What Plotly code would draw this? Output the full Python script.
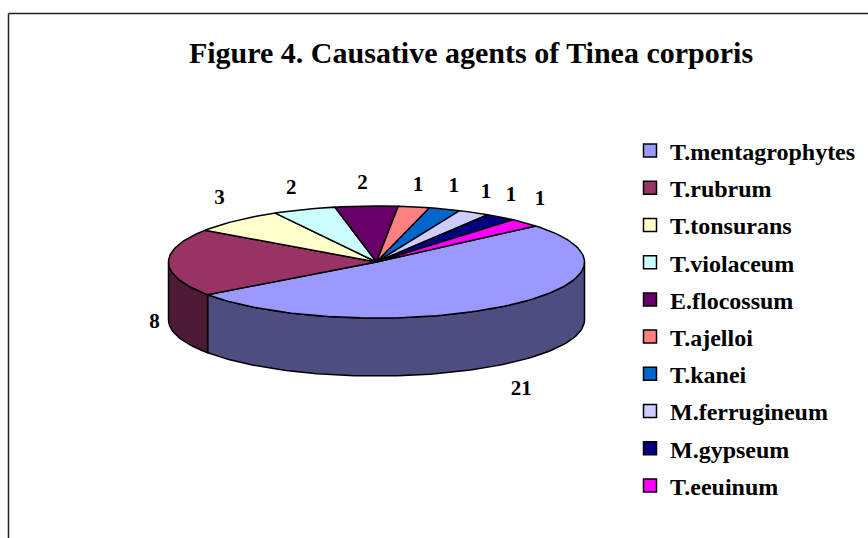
import math
import plotly.graph_objects as go

# ---- data ----
categories = ["T.mentagrophytes", "T.rubrum", "T.tonsurans", "T.violaceum", "E.flocossum",
              "T.ajelloi", "T.kanei", "M.ferrugineum", "M.gypseum", "T.eeuinum"]
values = [21, 8, 3, 2, 2, 1, 1, 1, 1, 1]
top_colors = ["#9999FF", "#993366", "#FFFFCC", "#CCFFFF", "#660066",
              "#FF8080", "#0066CC", "#CCCCFF", "#000080", "#FF00FF"]
side_colors = ["#4D4D80", "#4D1A33", "#808066", "#668080", "#330033",
               "#804040", "#003366", "#666680", "#000040", "#800080"]
title_text = "Figure 4. Causative agents of Tinea corporis"

# ---- pie geometry, in page pixels ----
W, H = 868, 538
CX, CY, RX, RY, DEPTH = 376.5, 262, 208, 56, 58
START = 40.1
LABEL_OFFSETS = [(17, 84), (-14, 60), (-17, -22), (-13, -21), (-4, -22),
                 (4, -21), (9, -22), (12, -20), (10, -21), (15, -23)]


def rim(deg, drop=0.0):
    t = math.radians(deg)
    return CX + RX * math.cos(t), CY - RY * math.sin(t) + drop


def arc(a0, a1, drop=0.0):
    n = max(2, int(abs(a1 - a0) / 1.5) + 1)
    return [rim(a0 + (a1 - a0) * i / (n - 1), drop) for i in range(n)]


fig = go.Figure()
total = sum(values)
edges = [START]
for v in values:
    edges.append(edges[-1] - v / total * 360)

# walls of the front half first
for i in range(len(values)):
    a0, a1 = edges[i], edges[i + 1]
    for lo, hi in [(-180, 0), (-540, -360)]:
        s, e = min(a0, hi), max(a1, lo)
        if s > e:
            pts = arc(s, e) + arc(e, s, DEPTH)
            pts.append(pts[0])
            fig.add_trace(go.Scatter(x=[p[0] for p in pts], y=[p[1] for p in pts], mode="lines",
                                     fill="toself", fillcolor=side_colors[i],
                                     line=dict(color="#000000", width=1.5),
                                     showlegend=False, hoverinfo="skip"))

# top faces
for i in range(len(values)):
    pts = [(CX, CY)] + arc(edges[i], edges[i + 1]) + [(CX, CY)]
    fig.add_trace(go.Scatter(x=[p[0] for p in pts], y=[p[1] for p in pts], mode="lines",
                             fill="toself", fillcolor=top_colors[i],
                             line=dict(color="#000000", width=1.5),
                             name=categories[i], showlegend=False, hoverinfo="name"))

# value labels
lx, ly = [], []
for i in range(len(values)):
    px, py = rim((edges[i] + edges[i + 1]) / 2)
    lx.append(px + LABEL_OFFSETS[i][0])
    ly.append(py + LABEL_OFFSETS[i][1])
fig.add_trace(go.Scatter(x=lx, y=ly, mode="text", text=[str(v) for v in values],
                         textfont=dict(family="Liberation Serif", size=21, color="#000000", weight="bold"),
                         showlegend=False, hoverinfo="skip"))

# legend entries
for i, name in enumerate(categories):
    fig.add_trace(go.Scatter(x=[None], y=[None], mode="markers", name=name, legendgroup=name,
                             marker=dict(symbol="square", size=13, color=top_colors[i],
                                         line=dict(color="#000000", width=1.5))))

fig.update_layout(
    width=W, height=H, margin=dict(l=0, r=0, t=0, b=0),
    paper_bgcolor="#FFFFFF", plot_bgcolor="#FFFFFF",
    font=dict(family="Liberation Serif", color="#000000"),
    xaxis=dict(range=[0, W], visible=False, fixedrange=True),
    yaxis=dict(range=[H, 0], visible=False, fixedrange=True),
    title=dict(text="<b>" + title_text + "</b>", x=471 / W, xanchor="center", y=1 - 52 / H, yanchor="middle",
               font=dict(family="Liberation Serif", size=30, color="#000000")),
    legend=dict(x=630 / W, xanchor="left", y=1 - 128.5 / H, yanchor="top", tracegroupgap=3,
                font=dict(family="Liberation Serif", size=24, color="#000000", weight="bold"),
                bgcolor="rgba(0,0,0,0)"),
    shapes=[
        dict(type="line", xref="x", yref="y", x0=8.5, x1=W, y0=13.5, y1=13.5, line=dict(color="#222222", width=1.5)),
        dict(type="line", xref="x", yref="y", x0=8.5, x1=8.5, y0=13.5, y1=H, line=dict(color="#222222", width=1.5)),
    ],
)
fig.write_html("out.html", post_script="document.body.style.margin='0';", config=dict(displayModeBar=False))
